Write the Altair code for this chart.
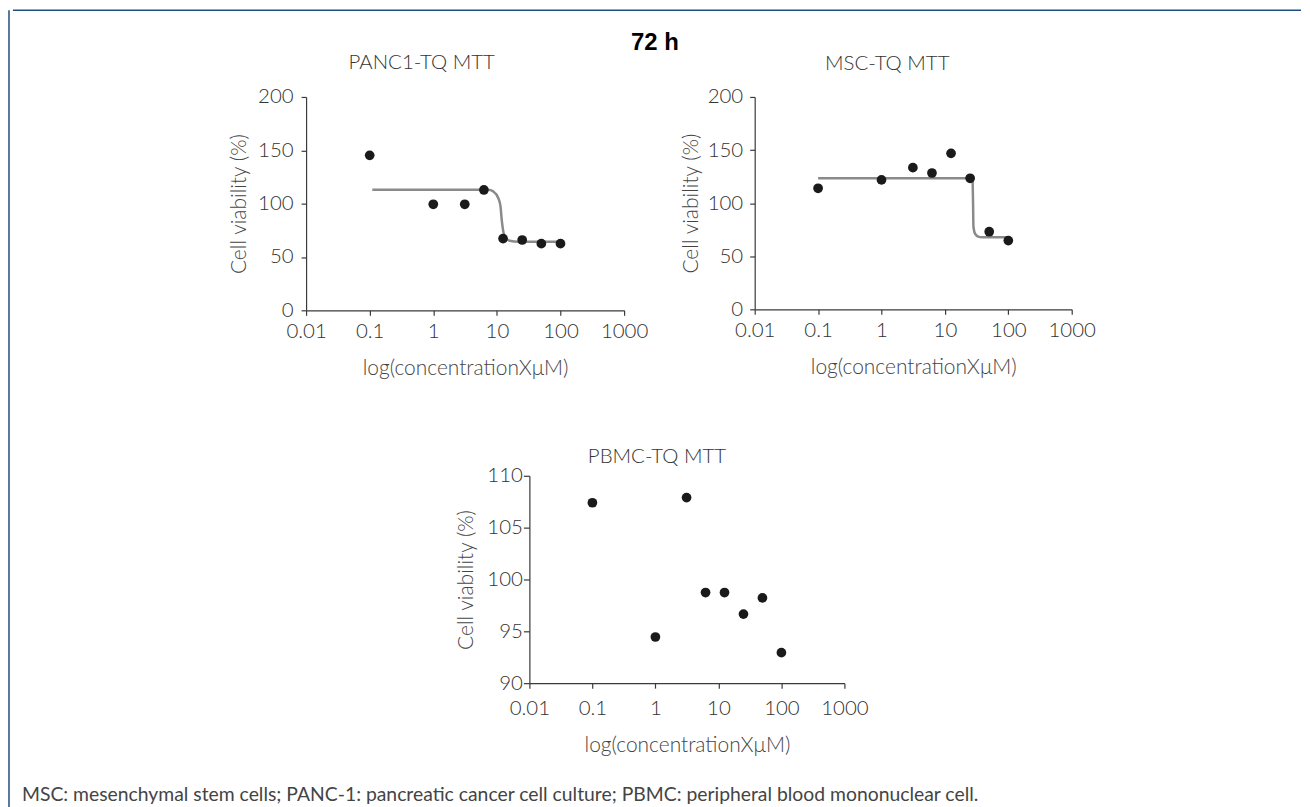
import altair as alt
import pandas as pd

# ---- data ----
conc = [0.1, 1, 3.125, 6.25, 12.5, 25, 50, 100]
panc_viab = [145.3, 99.4, 99.4, 112.8, 67.2, 65.9, 62.5, 62.5]
msc_viab = [114.0, 121.9, 133.4, 128.4, 146.9, 123.4, 73.1, 64.7]
pbmc_viab = [107.4, 94.45, 107.9, 98.74, 98.74, 96.66, 98.22, 92.94]

# fitted curves
panc_fit_x = [0.11, 5.0, 7.31, 8.75, 10.5, 11.4, 11.9, 12.6, 13.6, 15.9, 21.6, 100]
panc_fit_y = [113.1, 113.1, 113.1, 111.5, 105.3, 97.4, 84.9, 74.0, 67.7, 65.2, 64.3, 64.3]
msc_fit_x = [0.1, 26.5, 27.3, 27.8, 28.2, 30.0, 33.5, 38.5, 100]
msc_fit_y = [123.5, 123.5, 121.0, 100.0, 78.0, 71.0, 68.5, 67.9, 67.8]

x_ticks = [0.01, 0.1, 1, 10, 100, 1000]
y_ticks_big = [0, 50, 100, 150, 200]
y_ticks_pbmc = [90, 95, 100, 105, 110]

main_title = "72 h"
titles = ["PANC1-TQ MTT", "MSC-TQ MTT", "PBMC-TQ MTT"]
x_title = "log(concentrationXμM)"
y_title = "Cell viability (%)"
footer_text = ("MSC: mesenchymal stem cells; PANC-1: pancreatic cancer cell culture; "
               "PBMC: peripheral blood mononuclear cell.")

FONT = "Lato"
DOT = "#1a1a1a"
CURVE = "#8a8a8a"
FRAME = "#1f4e85"


def panel(viab, fit_x, fit_y, title, ydom, yvals, w, h, tdx, toff,
          ytick, ylpad, ytpad, xlpad, xtpad):
    pts = pd.DataFrame({"conc": conc, "viab": viab})
    xs = alt.X("conc:Q",
               scale=alt.Scale(type="log", domain=[0.01, 1000], nice=False),
               axis=alt.Axis(values=x_ticks, format="~g", title=x_title,
                             labelPadding=xlpad, titlePadding=xtpad, tickSize=5,
                             labelFlush=False, labelOverlap=False))
    ys = alt.Y("viab:Q",
               scale=alt.Scale(domain=ydom, nice=False, zero=False),
               axis=alt.Axis(values=yvals, title=y_title, tickSize=ytick,
                             labelPadding=ylpad, titlePadding=ytpad,
                             labelFlush=False, labelOverlap=False))
    layers = []
    if fit_x is not None:
        fit = pd.DataFrame({"conc": fit_x, "viab": fit_y})
        layers.append(alt.Chart(fit).mark_line(color=CURVE, strokeWidth=2.5,
                                               interpolate="monotone").encode(x=xs, y=ys))
    layers.append(alt.Chart(pts).mark_circle(color=DOT, opacity=1, size=95).encode(x=xs, y=ys))
    return alt.layer(*layers).properties(
        width=w, height=h,
        title=alt.TitleParams(title, anchor="middle", frame="group", dx=tdx,
                              offset=toff, baseline="alphabetic", font=FONT,
                              fontWeight=300, fontSize=20.5, color="#333333"))


def spacer(w, h):
    return alt.Chart(pd.DataFrame({"a": [0]})).mark_point(opacity=0).encode(
        x=alt.value(0), y=alt.value(0)).properties(width=w, height=h)


p1 = panel(panc_viab, panc_fit_x, panc_fit_y, titles[0], [0, 200], y_ticks_big,
           319, 214, -43.5, -2, 5, 8, 8, 6, 16)
p2 = panel(msc_viab, msc_fit_x, msc_fit_y, titles[1], [0, 200], y_ticks_big,
           318, 213, -26, -3, 5, 7, 6, 6, 16)
p3 = panel(pbmc_viab, None, None, titles[2], [90, 110], y_ticks_pbmc,
           316, 208, -30, -17.2, 6, 1, 10, 10, 16)

row1 = alt.hconcat(spacer(216, 1), p1, spacer(29, 1), p2, spacing=0,
                   title=alt.TitleParams(main_title, anchor="middle", frame="group",
                                         dx=644, offset=-21, baseline="alphabetic",
                                         font="Liberation Sans", fontSize=24,
                                         fontWeight="bold", color="#000000"))
row2 = alt.hconcat(spacer(444, 1), p3, spacing=0)

one = pd.DataFrame({"t": [footer_text]})
footer = alt.Chart(one).mark_text(align="left", baseline="alphabetic", font=FONT,
                                  fontSize=19.4, color="#444444").encode(
    x=alt.value(9), y=alt.value(16), text="t:N").properties(width=1000, height=20)

top_line = alt.Chart(one).mark_rule(color=FRAME, strokeWidth=1.5).encode(
    x=alt.value(0), x2=alt.value(1292), y=alt.value(0)).properties(width=1292, height=1)
left_line = alt.Chart(one).mark_rule(color=FRAME, strokeWidth=1.5).encode(
    x=alt.value(0), y=alt.value(0), y2=alt.value(800)).properties(width=1, height=800)

body = alt.vconcat(top_line, spacer(1, 16), row1, spacer(1, 63.6), row2,
                   spacer(1, 26), footer, spacing=0)

chart = alt.hconcat(left_line, body, spacing=0).properties(
    padding={"left": 0, "top": 0, "right": 0, "bottom": 0},
    background="white"
).configure_view(stroke=None).configure_axis(
    grid=False, domainColor="#3a3a3a", tickColor="#3a3a3a", domainWidth=1.2,
    tickWidth=1.2, labelFont=FONT, labelFontWeight=300, labelFontSize=20.5,
    labelColor="#333333", titleFont=FONT, titleFontWeight=300, titleFontSize=21,
    titleColor="#444444"
)

chart.save("out.html", embed_options={"renderer": "svg", "actions": False})
